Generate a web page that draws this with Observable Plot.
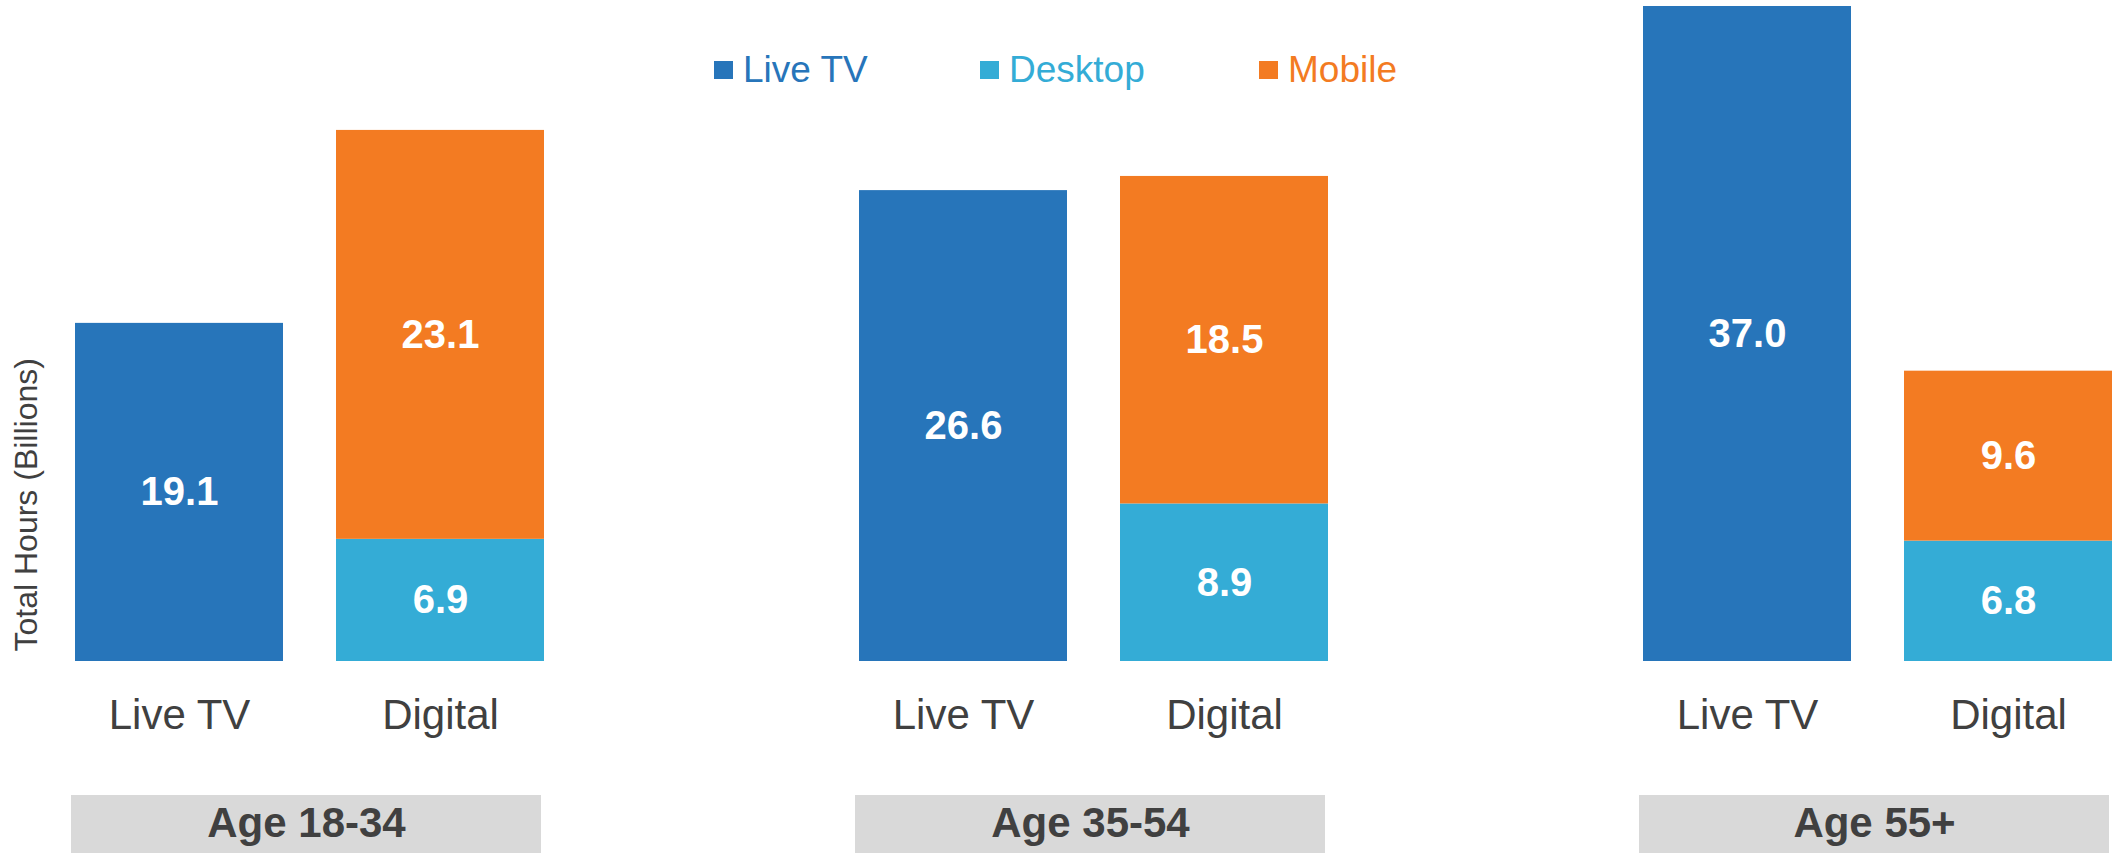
<!DOCTYPE html>
<html>
<head>
<meta charset="utf-8">
<script src="https://cdn.jsdelivr.net/npm/d3@7"></script>
<script src="https://cdn.jsdelivr.net/npm/@observablehq/plot@0.6"></script>
<style>
  html, body { margin: 0; padding: 0; background: #fff; overflow: hidden; }
  #wrap { position: relative; width: 2117px; height: 853px; font-family: "Liberation Sans", Arial, sans-serif; }
  #wrap svg { display: block; }
  .lg-sq { position: absolute; width: 19px; height: 18px; top: 61px; }
  .lg-tx { position: absolute; top: 51px; font-size: 37px; line-height: 37px; white-space: nowrap; }
</style>
</head>
<body>
<div id="wrap"></div>
<script>
// ---- data ----
const groups = ["Age 18-34", "Age 35-54", "Age 55+"];
const categories = ["Live TV", "Digital"];
const series = ["Live TV", "Desktop", "Mobile"];
const liveTV = [19.1, 26.6, 37.0];
const desktop = [6.9, 8.9, 6.8];
const mobile = [23.1, 18.5, 9.6];
const colors = ["#2775BA", "#34ACD6", "#F37B22"];
const yLabel = "Total Hours (Billions)";

const rows = [];
groups.forEach((g, i) => {
  rows.push({age: g, cat: categories[0], series: series[0], value: liveTV[i]});
  rows.push({age: g, cat: categories[1], series: series[1], value: desktop[i]});
  rows.push({age: g, cat: categories[1], series: series[2], value: mobile[i]});
});

const font = "Liberation Sans, Arial, sans-serif";
const textColor = "#404040";

const chart = Plot.plot({
  width: 2117,
  height: 853,
  marginLeft: 74,
  marginRight: 4,
  marginTop: 6,
  marginBottom: 192,
  style: {fontFamily: font, background: "white"},
  fx: {domain: groups, paddingInner: 0.4009, paddingOuter: 0, axis: null, label: null},
  x: {domain: categories, paddingInner: 0.2027, paddingOuter: 0, label: null},
  y: {domain: [0, 37], axis: null},
  color: {domain: series, range: colors},
  marks: [
    Plot.rect(groups, {fx: d => d, fill: "#D9D9D9", insetTop: 597, dy: 192, dx: -4}),
    Plot.text(groups, {fx: d => d, text: d => d, frameAnchor: "bottom", dy: 162, dx: -4,
      fontSize: 42, fontWeight: "bold", fill: textColor, lineAnchor: "middle"}),
    Plot.barY(rows, {fx: "age", x: "cat", y: "value", fill: "series"}),
    Plot.text(rows, Plot.stackY({fx: "age", x: "cat", y: "value", text: d => d.value.toFixed(1),
      fill: "white", fontSize: 40, fontWeight: "bold", lineAnchor: "middle"})),
    Plot.axisX({tickSize: 0, tickPadding: 38, fontSize: 42, fill: textColor, label: null}),
    Plot.text([yLabel], {fx: () => groups[0], text: d => d, frameAnchor: "bottom-left", rotate: -90,
      textAnchor: "start", lineAnchor: "middle", dx: -49, dy: -10, fontSize: 32, fill: textColor})
  ]
});

const wrap = document.getElementById("wrap");
wrap.appendChild(chart);

// legend (HTML overlay)
const legendLeft = [714, 980, 1259];
series.forEach((s, i) => {
  const sq = document.createElement("div");
  sq.className = "lg-sq";
  sq.style.left = legendLeft[i] + "px";
  sq.style.background = colors[i];
  wrap.appendChild(sq);
  const tx = document.createElement("div");
  tx.className = "lg-tx";
  tx.style.left = (legendLeft[i] + 29) + "px";
  tx.style.color = colors[i];
  tx.textContent = s;
  wrap.appendChild(tx);
});
</script>
</body>
</html>
